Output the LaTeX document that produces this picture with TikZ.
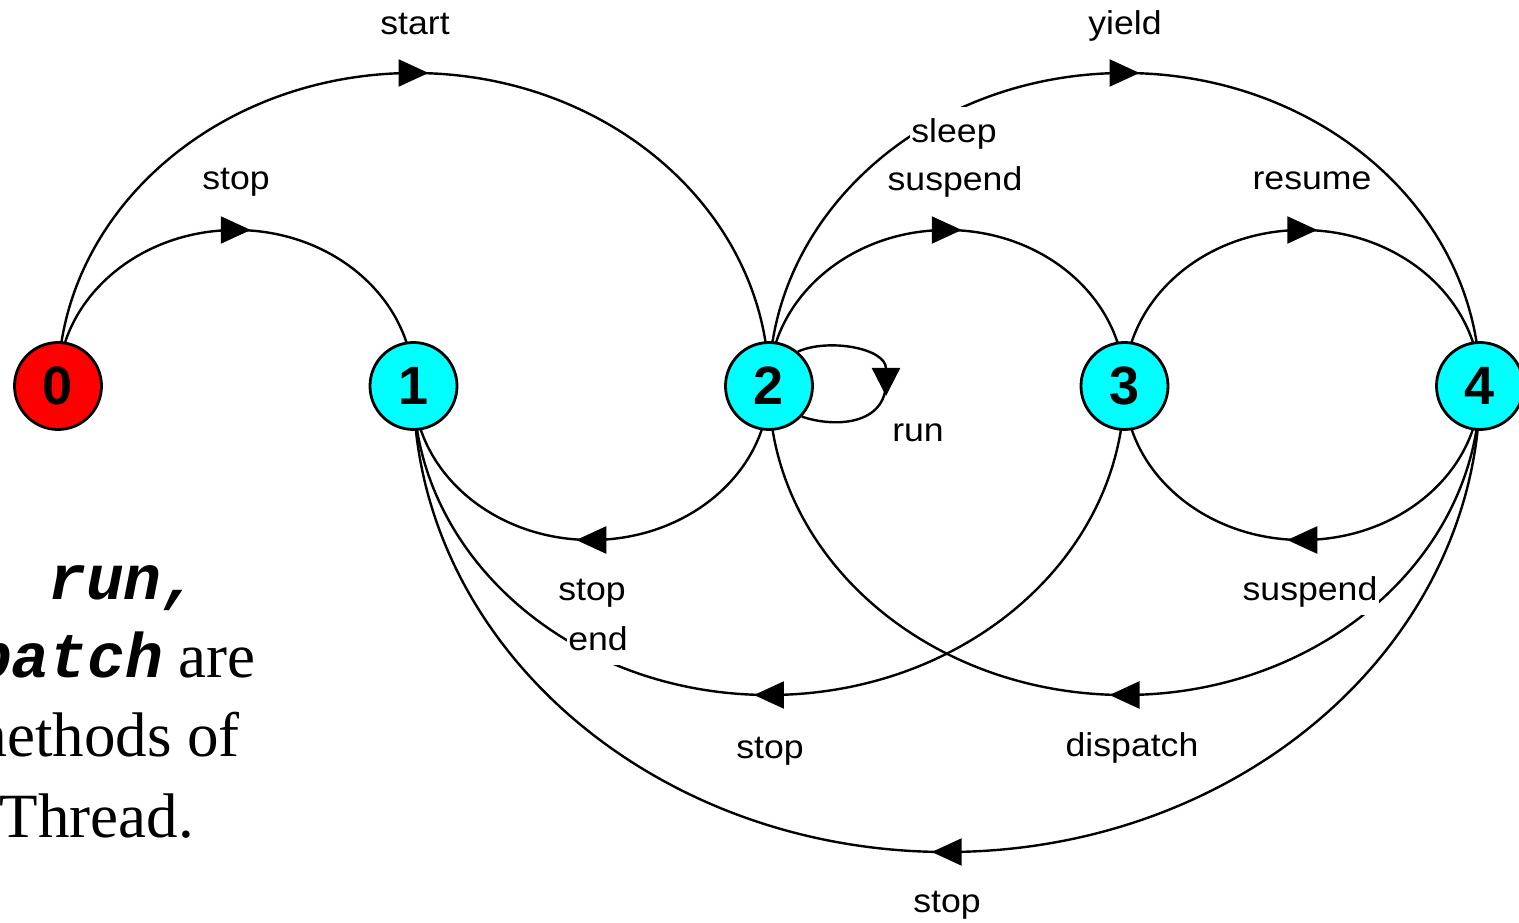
\documentclass[tikz,border=0pt]{standalone}
\usepackage{fontspec}
\setmainfont{Liberation Sans}
\newfontfamily\seriffont{Liberation Serif}
\newfontfamily\monofont{Liberation Mono}
\usetikzlibrary{arrows.meta,decorations.markings}
\pgfdeclarelayer{back}
\pgfdeclarelayer{bg}
\pgfsetlayers{back,bg,main}
\newcommand\stretchtxt[1]{\scalebox{1.08}[1]{#1}}
\tikzset{
  state/.style={circle,draw,line width=2.8pt,minimum size=87pt,inner sep=0pt,
    font=\fontsize{54}{54}\selectfont\bfseries},
  edge/.style={line width=2.4pt, postaction={decorate},
    decoration={markings, mark=at position 0.5 with
      {\arrow[xshift=15pt]{Triangle[length=30pt,width=27pt]}}}},
  lbl/.style={anchor=base, inner sep=1.5pt, font=\fontsize{33}{38}\selectfont},
  tallbox/.style={fill=white, text height=36pt, text depth=14pt, inner ysep=0pt, inner xsep=1.5pt},
  sidetext/.style={inner sep=0pt, font=\fontsize{63}{63}\selectfont},
}
\begin{document}
\begin{tikzpicture}[x=1pt,y=1pt]
\useasboundingbox (0,0) rectangle (1519,922);
\begin{pgfonlayer}{back}
\fill[white] (0,0) rectangle (1519,922);
\end{pgfonlayer}

% states
\node[state, fill={rgb,255:red,255;green,0;blue,0}] (n0) at (58,536) {0};
\node[state, fill={rgb,255:red,0;green,255;blue,255}] (n1) at (413.5,536) {1};
\node[state, fill={rgb,255:red,0;green,255;blue,255}] (n2) at (769,536) {2};
\node[state, fill={rgb,255:red,0;green,255;blue,255}] (n3) at (1124.5,536) {3};
\node[state, fill={rgb,255:red,0;green,255;blue,255}] (n4) at (1480,536) {4};

\begin{pgfonlayer}{bg}
% upper arcs (left to right)
\draw[edge] (n0.center) arc[start angle=180,end angle=0,x radius=177.75pt,y radius=156pt];
\draw[edge] (n0.center) arc[start angle=180,end angle=0,x radius=355.5pt,y radius=313pt];
\draw[edge] (n2.center) arc[start angle=180,end angle=0,x radius=177.75pt,y radius=156pt];
\draw[edge] (n3.center) arc[start angle=180,end angle=0,x radius=177.75pt,y radius=156pt];
\draw[edge] (n2.center) arc[start angle=180,end angle=0,x radius=355.5pt,y radius=313pt];
% lower arcs (right to left)
\draw[edge] (n2.center) arc[start angle=0,end angle=-180,x radius=177.75pt,y radius=154pt];
\draw[edge] (n4.center) arc[start angle=0,end angle=-180,x radius=177.75pt,y radius=154pt];
\draw[edge] (n3.center) arc[start angle=0,end angle=-180,x radius=355.5pt,y radius=309pt];
\draw[edge] (n4.center) arc[start angle=0,end angle=-180,x radius=355.5pt,y radius=309pt];
\draw[edge] (n4.center) arc[start angle=0,end angle=-180,x radius=533.25pt,y radius=466pt];
% self loop on 2
\draw[line width=2.4pt, -{Triangle[length=28pt,width=28pt]}]
  (n2.50) .. controls (828,584) and (886,574) .. (886,526);
\draw[line width=2.4pt] (886,540) .. controls (886,497) and (835,494) .. (n2.-43);
\end{pgfonlayer}

% labels
\node[lbl] (lstart) at (415,887) {\stretchtxt{start}};
\node[lbl] (lstop01) at (236,732) {\stretchtxt{stop}};
\node[lbl] (lyield) at (1125,887) {\stretchtxt{yield}};
\node[lbl, tallbox] (lsleep) at (954,779) {\stretchtxt{sleep}};
\node[lbl, fill=white] (lsusp23) at (955,731) {\stretchtxt{suspend}};
\node[lbl] (lresume) at (1312,732) {\stretchtxt{resume}};
\node[lbl] (lrun) at (918,480) {\stretchtxt{run}};
\node[lbl] (lstop21) at (592,321) {\stretchtxt{stop}};
\node[lbl, tallbox] (lend) at (598,271) {\stretchtxt{end}};
\node[lbl, tallbox] (lsusp43) at (1310,321) {\stretchtxt{suspend}};
\node[lbl] (lstop31) at (770,164) {\stretchtxt{stop}};
\node[lbl] (ldispatch) at (1132,165) {\stretchtxt{dispatch}};
\node[lbl] (lstop41) at (947,10) {\stretchtxt{stop}};

% side text (cut by the left edge, as in the reference)
\begin{scope}
\clip (0,0) rectangle (1519,922);
\node[sidetext, anchor=base west] (t1) at (48,322) {\monofont\bfseries\itshape run,};
\node[sidetext, anchor=base east] (t2) at (256,244) {{\monofont\bfseries\itshape dispatch}\seriffont\ are};
\node[sidetext, anchor=base east] (t3) at (240,165) {\seriffont methods of};
\node[sidetext, anchor=base east] (t4) at (194,85) {\seriffont Thread.};
\end{scope}
\end{tikzpicture}
\end{document}
